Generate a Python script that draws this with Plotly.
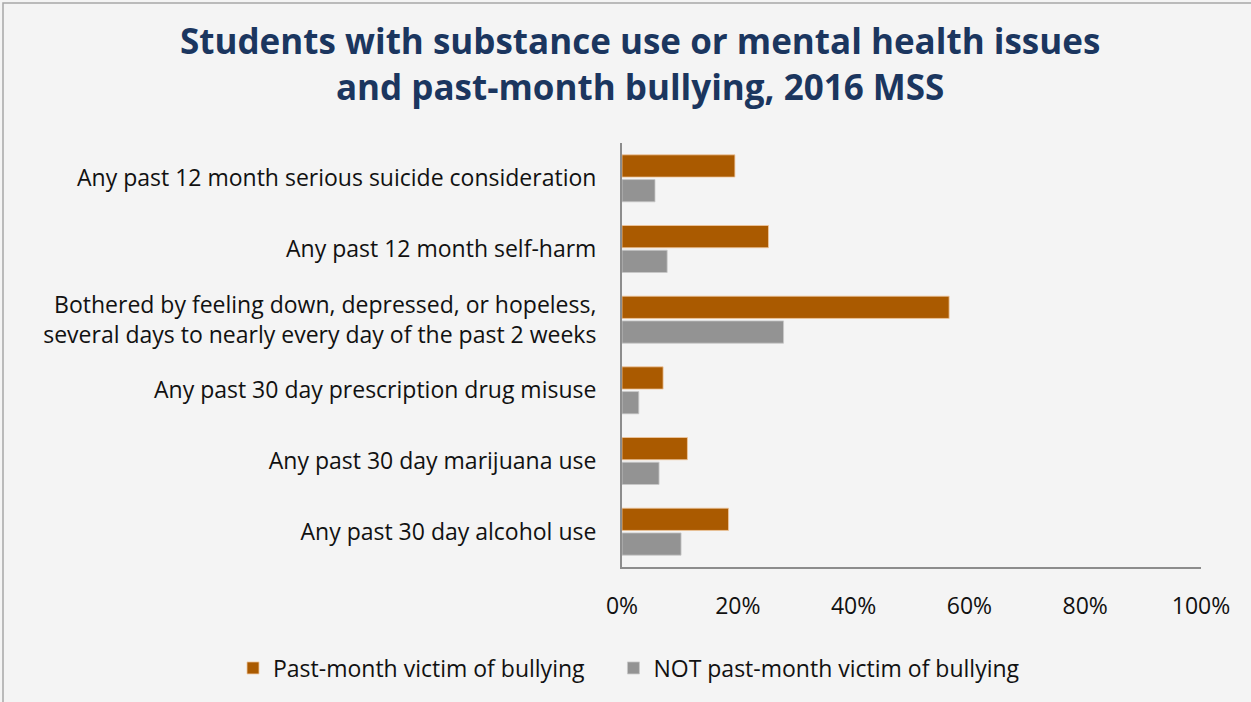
import plotly.graph_objects as go

# Survey items, listed top to bottom
categories = [
    "Any past 12 month serious suicide consideration",
    "Any past 12 month self-harm",
    "Bothered by feeling down, depressed, or hopeless,<br>several days to nearly every day of the past 2 weeks",
    "Any past 30 day prescription drug misuse",
    "Any past 30 day marijuana use",
    "Any past 30 day alcohol use",
]

# Percent of students in each group (0-1 scale)
bullied = [0.195, 0.253, 0.565, 0.071, 0.113, 0.184]
not_bullied = [0.057, 0.078, 0.279, 0.029, 0.064, 0.102]

series_names = ["Past-month victim of bullying", "NOT past-month victim of bullying"]
x_ticks = [0, 0.2, 0.4, 0.6, 0.8, 1.0]
x_tick_labels = ["0%", "20%", "40%", "60%", "80%", "100%"]

FONT = "'Open Sans', Lato, sans-serif"
W, H = 1251, 702
L, R, T, B = 622, 50, 143, 135
pw, ph = W - L - R, H - T - B


def px_x(x):
    return (x - L) / pw


def px_y(y):
    return (H - B - y) / ph


# a little padding after the first legend entry to widen the gap between entries
LEGEND_PAD = "\u00a0" * 4

fig = go.Figure()
fig.add_trace(go.Bar(
    y=categories, x=bullied, orientation="h", name=series_names[0] + LEGEND_PAD,
    marker=dict(color="#AA5A00", line=dict(color="rgba(240,200,160,0.8)", width=1)),
))
fig.add_trace(go.Bar(
    y=categories, x=not_bullied, orientation="h", name=series_names[1],
    marker=dict(color="#939393", line=dict(color="rgba(200,200,200,0.8)", width=1)),
))

fig.update_layout(
    width=W, height=H,
    margin=dict(l=L, r=R, t=T, b=B, autoexpand=False),
    paper_bgcolor="#F4F4F4",
    plot_bgcolor="#F4F4F4",
    barmode="group",
    bargap=0.3,
    bargroupgap=0.1,
    font=dict(family=FONT, size=23, color="#111111"),
    showlegend=True,
    legend=dict(
        orientation="h",
        x=px_x(233), xanchor="left", y=px_y(668), yanchor="middle",
        font=dict(family=FONT, size=23, color="#111111"),
        traceorder="normal", bgcolor="rgba(0,0,0,0)",
    ),
    annotations=[
        dict(
            text="<b>Students with substance use or mental health issues<br>and past-month bullying, 2016 MSS</b>",
            xref="paper", yref="paper", x=px_x(640), y=px_y(63),
            xanchor="center", yanchor="middle", showarrow=False,
            font=dict(family=FONT, size=35, color="#1B365F"),
        )
    ],
    shapes=[
        dict(type="rect", xref="paper", yref="paper",
             x0=px_x(3), x1=px_x(1260), y0=px_y(3), y1=px_y(720),
             line=dict(color="#A6A6A6", width=1.5), fillcolor="rgba(0,0,0,0)", layer="below"),
    ],
)

fig.update_xaxes(
    range=[0, 1.0], tickvals=x_ticks, ticktext=x_tick_labels,
    showgrid=False, zeroline=False,
    showline=True, linecolor="#8C8C8C", linewidth=2,
    ticks="outside", ticklen=0, ticklabelstandoff=17,
    tickfont=dict(family=FONT, size=23, color="#111111"),
    fixedrange=True,
)
fig.update_yaxes(
    autorange="reversed", showgrid=False, zeroline=False,
    showline=True, linecolor="#8C8C8C", linewidth=2,
    ticks="outside", ticklen=0, ticklabelstandoff=19,
    tickfont=dict(family=FONT, size=23, color="#111111"),
    fixedrange=True,
)

fig.write_html("out.html")
